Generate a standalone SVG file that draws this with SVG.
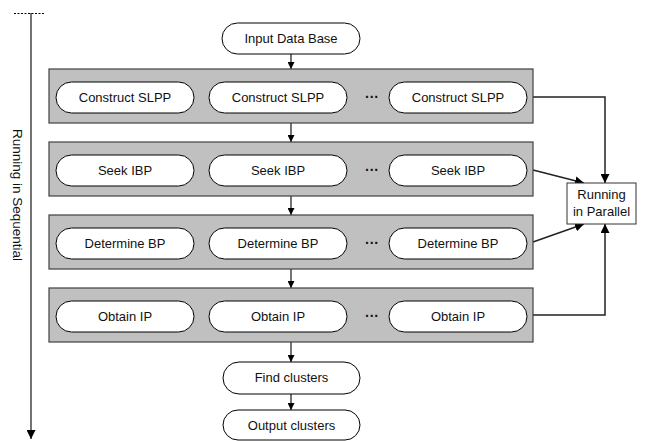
<svg xmlns="http://www.w3.org/2000/svg" width="645" height="441" viewBox="0 0 645 441">
  <style>
    .stage { fill: #c0c0c0; stroke: #404040; stroke-width: 1.2; }
    .pill { fill: #ffffff; stroke: #000000; stroke-width: 1; }
    .box { fill: #ffffff; stroke: #333333; stroke-width: 1; }
    .lbl { font-family: "Liberation Sans", Arial, sans-serif; font-size: 13px; fill: #111111; text-anchor: middle; }
    .dots { font-family: "Liberation Sans", Arial, sans-serif; font-size: 14px; font-weight: bold; fill: #111111; text-anchor: middle; }
    .wire { fill: none; stroke: #000000; stroke-width: 1.1; }
    .wire2 { fill: none; stroke: #222222; stroke-width: 1.5; }
  </style>
  <defs>
    <marker id="arr" viewBox="0 0 10 10" refX="10" refY="5" markerWidth="7" markerHeight="7" markerUnits="userSpaceOnUse" orient="auto">
      <path d="M0,0 L10,5 L0,10 z" fill="#000000"/>
    </marker>
    <marker id="arrL" viewBox="0 0 10 10" refX="10" refY="5" markerWidth="9" markerHeight="9" markerUnits="userSpaceOnUse" orient="auto">
      <path d="M0,0 L10,5 L0,10 z" fill="#000000"/>
    </marker>
  </defs>

  <!-- sequential time axis -->
  <g id="sequential-axis">
    <line x1="14" y1="13.5" x2="45" y2="13.5" stroke="#000" stroke-width="1" stroke-dasharray="2,1.5"/>
    <line x1="31" y1="13" x2="31" y2="439" class="wire" marker-end="url(#arrL)"/>
    <text class="lbl" transform="translate(12.5,195) rotate(90)" style="font-size:13.5px">Running in Sequential</text>
  </g>

  <!-- connectors -->
  <g id="connectors">
    <line x1="291" y1="54" x2="291" y2="69" class="wire" marker-end="url(#arr)"/>
    <line x1="291" y1="123" x2="291" y2="142" class="wire" marker-end="url(#arr)"/>
    <line x1="291" y1="196" x2="291" y2="215" class="wire" marker-end="url(#arr)"/>
    <line x1="291" y1="269" x2="291" y2="288" class="wire" marker-end="url(#arr)"/>
    <line x1="291" y1="342" x2="291" y2="362" class="wire" marker-end="url(#arr)"/>
    <line x1="291" y1="394" x2="291" y2="410" class="wire" marker-end="url(#arr)"/>
    <polyline points="533,97 605,97 605,183" class="wire2" marker-end="url(#arrL)"/>
    <line x1="533" y1="170" x2="584" y2="183" class="wire2" marker-end="url(#arrL)"/>
    <line x1="533" y1="242" x2="584" y2="224" class="wire2" marker-end="url(#arrL)"/>
    <polyline points="533,315 605,315 605,224" class="wire2" marker-end="url(#arrL)"/>
  </g>

  <g id="input-data-base">
    <rect x="222" y="23" width="138" height="31" rx="15.5" class="pill"/>
    <text x="291" y="43" class="lbl">Input Data Base</text>
  </g>

  <g id="stage-construct">
    <rect x="49" y="69" width="484" height="54" class="stage"/>
    <rect x="56" y="82" width="138" height="31" rx="15.5" class="pill"/>
    <text x="125" y="102" class="lbl">Construct SLPP</text>
    <rect x="209" y="82" width="138" height="31" rx="15.5" class="pill"/>
    <text x="278" y="102" class="lbl">Construct SLPP</text>
    <text x="372" y="102" class="dots">···</text>
    <rect x="389" y="82" width="138" height="31" rx="15.5" class="pill"/>
    <text x="458" y="102" class="lbl">Construct SLPP</text>
  </g>

  <g id="stage-seek">
    <rect x="49" y="142" width="484" height="54" class="stage"/>
    <rect x="56" y="155" width="138" height="31" rx="15.5" class="pill"/>
    <text x="125" y="175" class="lbl">Seek IBP</text>
    <rect x="209" y="155" width="138" height="31" rx="15.5" class="pill"/>
    <text x="278" y="175" class="lbl">Seek IBP</text>
    <text x="372" y="175" class="dots">···</text>
    <rect x="389" y="155" width="138" height="31" rx="15.5" class="pill"/>
    <text x="458" y="175" class="lbl">Seek IBP</text>
  </g>

  <g id="stage-determine">
    <rect x="49" y="215" width="484" height="54" class="stage"/>
    <rect x="56" y="228" width="138" height="31" rx="15.5" class="pill"/>
    <text x="125" y="248" class="lbl">Determine BP</text>
    <rect x="209" y="228" width="138" height="31" rx="15.5" class="pill"/>
    <text x="278" y="248" class="lbl">Determine BP</text>
    <text x="372" y="248" class="dots">···</text>
    <rect x="389" y="228" width="138" height="31" rx="15.5" class="pill"/>
    <text x="458" y="248" class="lbl">Determine BP</text>
  </g>

  <g id="stage-obtain">
    <rect x="49" y="288" width="484" height="54" class="stage"/>
    <rect x="56" y="301" width="138" height="31" rx="15.5" class="pill"/>
    <text x="125" y="321" class="lbl">Obtain IP</text>
    <rect x="209" y="301" width="138" height="31" rx="15.5" class="pill"/>
    <text x="278" y="321" class="lbl">Obtain IP</text>
    <text x="372" y="321" class="dots">···</text>
    <rect x="389" y="301" width="138" height="31" rx="15.5" class="pill"/>
    <text x="458" y="321" class="lbl">Obtain IP</text>
  </g>

  <g id="running-in-parallel">
    <rect x="567" y="183" width="69" height="41" class="box"/>
    <text x="601.5" y="199" class="lbl">Running</text>
    <text x="601.5" y="216" class="lbl">in Parallel</text>
  </g>

  <g id="find-clusters">
    <rect x="223" y="362" width="137" height="32" rx="16" class="pill"/>
    <text x="291.5" y="382" class="lbl">Find clusters</text>
  </g>

  <g id="output-clusters">
    <rect x="223" y="410" width="137" height="30" rx="15" class="pill"/>
    <text x="291.5" y="430" class="lbl">Output clusters</text>
  </g>
</svg>
